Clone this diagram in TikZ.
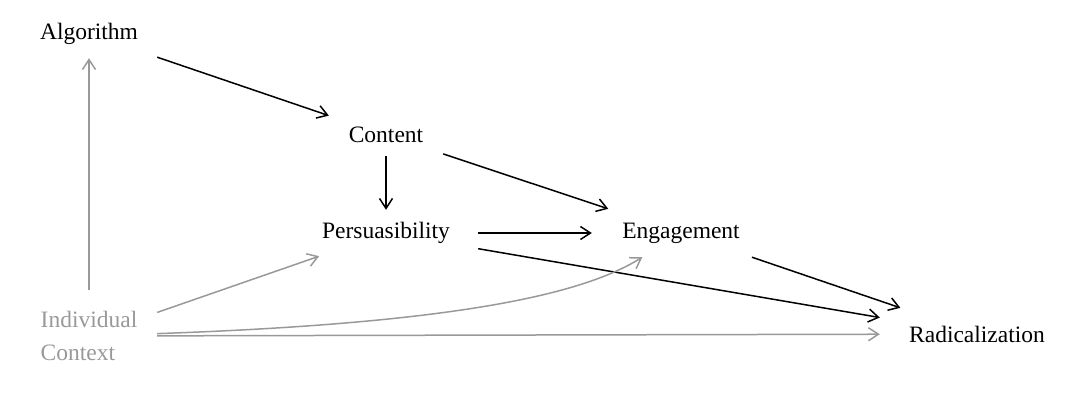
\documentclass[tikz,border=0pt]{standalone}
\usepackage{fontspec}
\setmainfont{Liberation Serif}
\usetikzlibrary{arrows.meta}
\begin{document}
\begin{tikzpicture}[x=1pt,y=1pt,
  lbl/.style={inner sep=0pt, font=\fontsize{23.5}{33}\selectfont},
  blk/.style={draw=black, line width=1.5pt, -{Straight Barb[length=10pt,width=13pt]}},
  gry/.style={draw=black!40, line width=1.5pt, -{Straight Barb[length=10pt,width=13pt]}}]
\useasboundingbox (0,0) rectangle (1091,-407);
\node[lbl, minimum width=136, minimum height=48] (alg) at (89,-34) {Algorithm};
\node[lbl, minimum width=114, minimum height=42] (cont) at (386,-135) {Content};
\node[lbl, minimum width=184, minimum height=46] (pers) at (386,-233) {Persuasibility};
\node[lbl, minimum width=178, minimum height=48] (eng) at (681,-233) {Engagement};
\node[lbl, minimum width=136, minimum height=92, align=left, text=black!40] (ind) at (89,-336) {Individual\\Context};
\node[lbl, minimum width=194, minimum height=52] (rad) at (977,-334) {Radicalization};
\draw[gry] (ind) -- (alg);
\draw[blk] (alg) -- (cont);
\draw[blk] (cont) -- (pers);
\draw[blk] (cont) -- (eng);
\draw[blk] (pers) -- (eng);
\draw[blk] (pers) -- (rad);
\draw[blk] (eng) -- (rad);
\draw[gry] (ind) -- (pers);
\draw[gry] (ind) to[out=2, in=-148, out distance=300pt, in distance=70pt] (eng);
\draw[gry] (ind) -- (rad);
\end{tikzpicture}
\end{document}
